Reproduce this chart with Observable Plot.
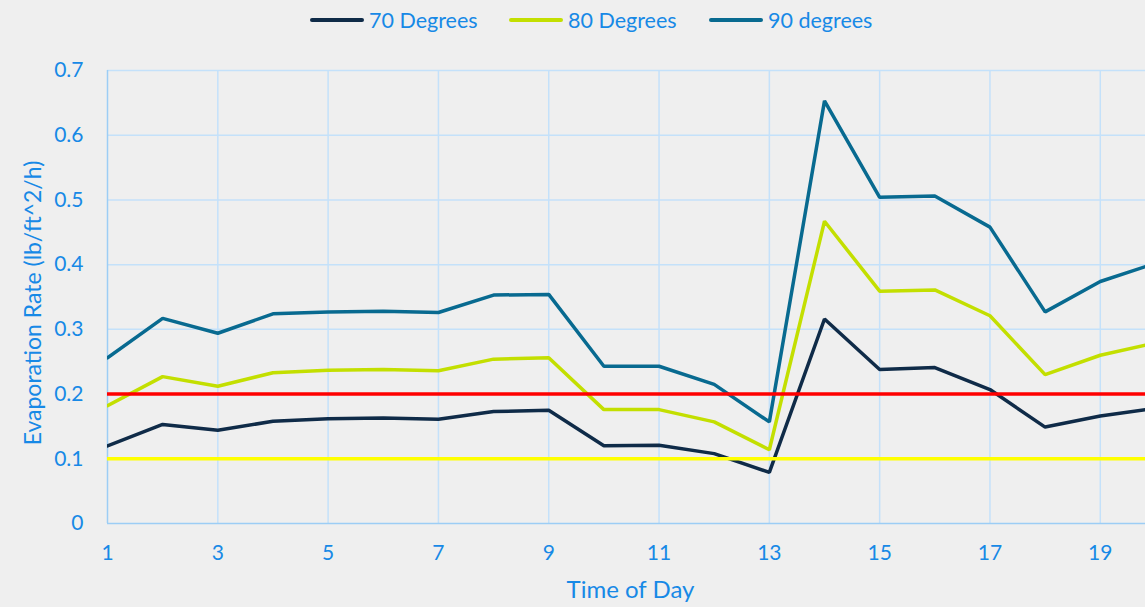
<!DOCTYPE html>
<html>
<head>
<meta charset="utf-8">
<script src="https://cdn.jsdelivr.net/npm/d3@7"></script>
<script src="https://cdn.jsdelivr.net/npm/@observablehq/plot@0.6"></script>
<style>
  html, body { margin: 0; padding: 0; background: #efefef; overflow: hidden; }
  body { width: 1145px; height: 607px; font-family: Lato, "Open Sans", sans-serif; color: #1789e6; }
  #legend { position: relative; height: 38px; }
  .item { position: absolute; top: 1px; height: 38px; display: flex; align-items: center; font-size: 21.5px; }
  .swatch { width: 54px; height: 4px; border-radius: 2px; margin-right: 5px; }
</style>
</head>
<body>
<div id="legend"></div>
<div id="chart"></div>
<script>
// Hour of the day (x) and evaporation rate per temperature series (lb/ft^2/h)
const hours = [1, 2, 3, 4, 5, 6, 7, 8, 9, 10, 11, 12, 13, 14, 15, 16, 17, 18, 19, 20];
const deg70 = [0.120, 0.153, 0.144, 0.158, 0.162, 0.163, 0.161, 0.173, 0.175, 0.120, 0.121, 0.108, 0.079, 0.316, 0.238, 0.241, 0.207, 0.149, 0.166, 0.178];
const deg80 = [0.182, 0.227, 0.212, 0.233, 0.237, 0.238, 0.236, 0.254, 0.256, 0.176, 0.176, 0.157, 0.114, 0.467, 0.359, 0.361, 0.321, 0.230, 0.260, 0.279];
const deg90 = [0.256, 0.317, 0.294, 0.324, 0.327, 0.328, 0.326, 0.353, 0.354, 0.243, 0.243, 0.215, 0.157, 0.653, 0.504, 0.506, 0.458, 0.327, 0.374, 0.402];

const seriesNames = ["70 Degrees", "80 Degrees", "90 degrees"];
const seriesColors = ["#0f2b48", "#c3df00", "#086a90"];
const seriesValues = [deg70, deg80, deg90];

// Reference limits drawn as horizontal lines
const limitValues = [0.2, 0.1];
const limitColors = ["#ff0000", "#ffff00"];

const yTicks = [0, 0.1, 0.2, 0.3, 0.4, 0.5, 0.6, 0.7];
const yTickLabels = ["0", "0.1", "0.2", "0.3", "0.4", "0.5", "0.6", "0.7"];
const xTicks = [1, 3, 5, 7, 9, 11, 13, 15, 17, 19];

const xTitle = "Time of Day";
const yTitle = "Evaporation Rate (lb/ft^2/h)";

const textColor = "#1789e6";
const gridColor = "#c4e1fa";
const axisColor = "#9ccdf5";

// Legend above the chart
const legend = document.getElementById("legend");
const legendLeft = [310, 509, 709];
seriesNames.forEach((name, i) => {
  const item = document.createElement("div");
  item.className = "item";
  item.style.left = legendLeft[i] + "px";
  const sw = document.createElement("span");
  sw.className = "swatch";
  sw.style.background = seriesColors[i];
  const label = document.createElement("span");
  label.textContent = name;
  item.append(sw, label);
  legend.append(item);
});

// Long-format table for the line marks
const rows = seriesNames.flatMap((name, i) =>
  hours.map((h, j) => ({series: name, hour: h, rate: seriesValues[i][j]}))
);

const chart = Plot.plot({
  width: 1145,
  height: 569,
  marginLeft: 107,
  marginRight: 0,
  marginTop: 32,
  marginBottom: 84,
  style: {background: "transparent", fontFamily: "Lato, 'Open Sans', sans-serif", fontSize: "21px", color: textColor, overflow: "hidden"},
  x: {domain: [1, 19.82]},
  y: {domain: [0, 0.7]},
  color: {domain: seriesNames, range: seriesColors},
  marks: [
    Plot.gridY(yTicks.slice(1), {stroke: gridColor, strokeOpacity: 1, strokeWidth: 1.5}),
    Plot.gridX(xTicks.slice(1), {stroke: gridColor, strokeOpacity: 1, strokeWidth: 1.5}),
    Plot.ruleX([1], {stroke: axisColor, strokeWidth: 1.5}),
    Plot.ruleY([0], {stroke: axisColor, strokeWidth: 1.5}),
    Plot.line(rows, {x: "hour", y: "rate", z: "series", stroke: "series", strokeWidth: 3.5, strokeLinejoin: "miter", clip: true}),
    Plot.ruleY(limitValues, {stroke: (d, i) => limitColors[i], strokeWidth: 3.5}),
    Plot.axisY(yTicks, {tickSize: 0, tickPadding: 24, tickFormat: (d, i) => yTickLabels[i], fill: textColor, label: null}),
    Plot.axisX(xTicks, {tickSize: 0, tickPadding: 22, fill: textColor, label: null}),
    Plot.text([xTitle], {frameAnchor: "bottom", textAnchor: "middle", dx: 4, dy: 74, fill: textColor, fontSize: 24}),
    Plot.text([yTitle], {frameAnchor: "left", textAnchor: "middle", dx: -74, dy: 6, rotate: -90, fill: textColor, fontSize: 23})
  ]
});
document.getElementById("chart").append(chart);
</script>
</body>
</html>
